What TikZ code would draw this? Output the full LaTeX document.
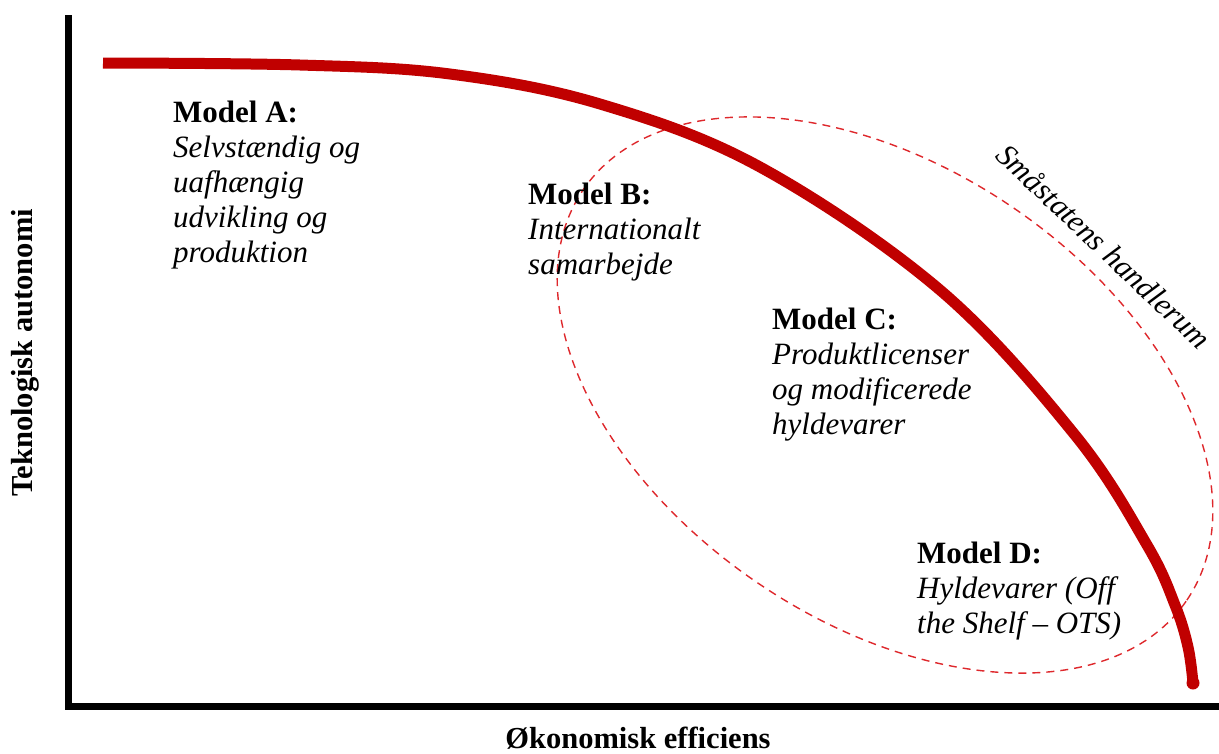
\documentclass[tikz,border=0pt]{standalone}
\usepackage{fontspec}
\setmainfont{Liberation Serif}
\usetikzlibrary{shapes.geometric}
\definecolor{curvered}{RGB}{192,0,0}
\definecolor{dashred}{RGB}{222,40,44}
\begin{document}
\begin{tikzpicture}[x=1pt,y=-1pt,
  axis/.style={line width=7pt,black},
  frontier/.style={line width=11pt,curvered,line cap=butt,line join=round},
  space/.style={ellipse,draw=dashred,line width=1.4pt,dash pattern=on 8pt off 6pt,
    minimum width=730pt,minimum height=454pt,inner sep=0pt},
  model/.style={anchor=north west,inner sep=0pt,align=left,
    font=\fontsize{31}{35}\selectfont},
  axislabel/.style={inner sep=0pt,font=\fontsize{30.5}{35}\selectfont\bfseries},
  spacelabel/.style={inner sep=0pt,font=\fontsize{31}{35}\selectfont\itshape}]
\useasboundingbox (0,0) rectangle (1219,753);
% axes
\coordinate (ytop) at (68.8,15);
\coordinate (origin) at (68.8,706);
\coordinate (xend) at (1219,706);
\draw[axis,line cap=butt] (ytop) -- (68.8,709.5);
\draw[axis,line cap=butt] (65.3,706) -- (xend);
% small-state space
\node[space,rotate=-34.2] (room) at (885,395) {};
% frontier curve
\draw[frontier] plot[smooth,tension=0.6] coordinates {(103,63) (300,65) (450,74) (600,104) (760,167) (940,290) (1075,435) (1147,545) (1175,605) (1188,647) (1193,683)};
\fill[curvered] (1193,683) circle (6.5pt);
% labels
\node[model] (A) at (173,101) {\textbf{Model A:}\\\textit{Selvstændig og}\\\textit{uafhængig}\\\textit{udvikling og}\\\textit{produktion}};
\node[model] (B) at (528,182.3) {\textbf{Model B:}\\\textit{Internationalt}\\\textit{samarbejde}};
\node[model] (C) at (772,307.3) {\textbf{Model C:}\\\textit{Produktlicenser}\\\textit{og modificerede}\\\textit{hyldevarer}};
\node[model] (D) at (917,541.3) {\textbf{Model D:}\\\textit{Hyldevarer (Off}\\\textit{the Shelf – OTS)}};
\node[spacelabel,rotate=-43.5] (roomlabel) at (1104,246) {Småstatens handlerum};
\node[axislabel,anchor=base] (xlabel) at (638,748) {Økonomisk efficiens};
\node[axislabel,anchor=base,rotate=90] (ylabel) at (32.5,353) {Teknologisk autonomi};
\end{tikzpicture}
\end{document}
